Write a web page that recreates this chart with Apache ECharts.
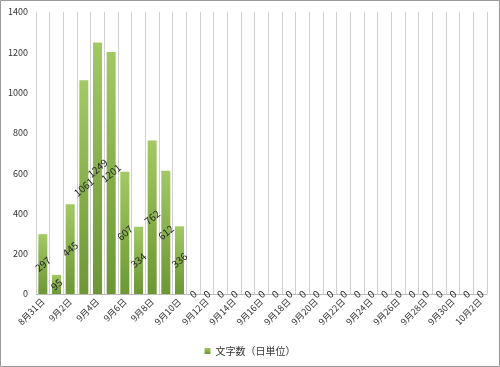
<!DOCTYPE html>
<html><head><meta charset="utf-8">
<script src="https://cdn.jsdelivr.net/npm/echarts@6/dist/echarts.min.js"></script>
<style>html,body{margin:0;padding:0;background:#fff}#c{width:500px;height:367px}</style>
</head><body><div id="c"></div>
<script>
const categories = ['8月31日','9月1日','9月2日','9月3日','9月4日','9月5日','9月6日','9月7日','9月8日','9月9日','9月10日','9月11日','9月12日','9月13日','9月14日','9月15日','9月16日','9月17日','9月18日','9月19日','9月20日','9月21日','9月22日','9月23日','9月24日','9月25日','9月26日','9月27日','9月28日','9月29日','9月30日','10月1日','10月2日'];
const values = [297,95,445,1061,1249,1201,607,334,762,612,336,0,0,0,0,0,0,0,0,0,0,0,0,0,0,0,0,0,0,0,0,0,0];
const seriesName = '文字数（日単位）';
const font = '"Noto Sans CJK JP", sans-serif';
const chart = echarts.init(document.getElementById('c'));
chart.setOption({
  animation: false,
  textStyle: {fontFamily: font},
  graphic: [{type:'rect', shape:{x:0.5,y:0.5,width:499,height:366}, style:{fill:'none', stroke:'#999', lineWidth:1}, silent:true}],
  grid: {left: 36, right: 13, top: 12, bottom: 73},
  legend: {bottom: 6, left: 'center', itemWidth: 6, itemHeight: 6, icon: 'rect', itemGap: 3,
    textStyle: {fontSize: 10, color: '#333', fontFamily: font}},
  xAxis: {type: 'category', data: categories,
    axisLine: {lineStyle: {color: '#bbb'}}, axisTick: {show: false},
    splitLine: {show: true, interval: 0, lineStyle: {color: '#d0d0d0'}},
    axisLabel: {interval: 1, rotate: 45, fontSize: 9, color: '#333', margin: 6, fontFamily: font}},
  yAxis: {type: 'value', min: 0, max: 1400, interval: 200,
    axisLine: {show: false}, axisTick: {show: false}, splitLine: {show: false},
    axisLabel: {fontSize: 9, color: '#333', margin: 8, fontFamily: font, formatter: v => String(v)}},
  series: [{name: seriesName, type: 'bar', data: values, barCategoryGap: '34%',
    itemStyle: {color: new echarts.graphic.LinearGradient(0,0,0,1,[{offset:0,color:'#a3c965'},{offset:1,color:'#6c9734'}])},
    label: {show: true, position: 'inside', rotate: 40, fontSize: 10, color: '#222', fontFamily: font}}]
});
</script></body></html>
